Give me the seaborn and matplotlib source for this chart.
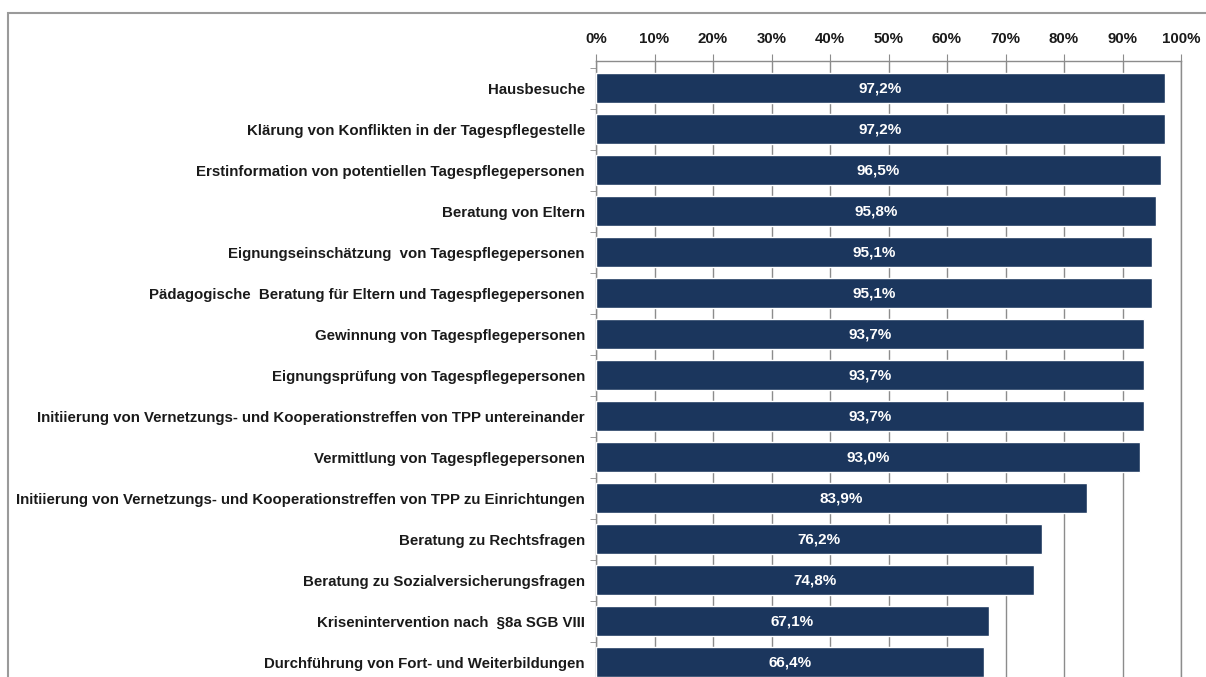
import matplotlib
matplotlib.use('Agg')
import matplotlib.pyplot as plt
import seaborn as sns
import pandas as pd
from matplotlib.patches import Rectangle
from matplotlib.ticker import FuncFormatter, MultipleLocator, FixedLocator

categories = [
    'Hausbesuche',
    'Klärung von Konflikten in der Tagespflegestelle',
    'Erstinformation von potentiellen Tagespflegepersonen',
    'Beratung von Eltern',
    'Eignungseinschätzung  von Tagespflegepersonen',
    'Pädagogische  Beratung für Eltern und Tagespflegepersonen',
    'Gewinnung von Tagespflegepersonen',
    'Eignungsprüfung von Tagespflegepersonen',
    'Initiierung von Vernetzungs- und Kooperationstreffen von TPP untereinander',
    'Vermittlung von Tagespflegepersonen',
    'Initiierung von Vernetzungs- und Kooperationstreffen von TPP zu Einrichtungen',
    'Beratung zu Rechtsfragen',
    'Beratung zu Sozialversicherungsfragen',
    'Krisenintervention nach  §8a SGB VIII',
    'Durchführung von Fort- und Weiterbildungen',
]
values = [97.2, 97.2, 96.5, 95.8, 95.1, 95.1, 93.7, 93.7, 93.7, 93.0, 83.9, 76.2, 74.8, 67.1, 66.4]

df = pd.DataFrame({'task': categories, 'share': values})

sns.set_style('white')
plt.rcParams['font.family'] = ['Liberation Sans', 'DejaVu Sans']

W, H = 1206, 677
fig = plt.figure(figsize=(W / 100, H / 100), dpi=100)

# gray frame around the chart area (continues past the cropped edges)
fig.patches.append(Rectangle((8 / W, -0.1), 1.2, 1 - 13 / H + 0.1, transform=fig.transFigure,
                             fill=False, edgecolor='#9a9a9a', linewidth=1.5))

top_px, bottom_px = 61, 682.5
ax = fig.add_axes([596 / W, 1 - bottom_px / H, (1181 - 596) / W, (bottom_px - top_px) / H])

bar_color = '#1b365d'
sns.barplot(data=df, y='task', x='share', orient='h', color=bar_color, width=0.73,
            saturation=1, ax=ax, zorder=3)

ax.set_xlim(0, 100)
ax.set_ylim(14.5, -0.66)
ax.xaxis.set_major_locator(MultipleLocator(10))
ax.xaxis.set_major_formatter(FuncFormatter(lambda v, p: f'{int(v)}%'))
ax.xaxis.tick_top()
ax.set_xlabel('')
ax.set_ylabel('')
ax.grid(axis='x', color='#8c8c8c', linewidth=1, zorder=0)
ax.grid(axis='y', visible=False)

for s in ['top', 'left', 'right']:
    ax.spines[s].set_visible(True)
    ax.spines[s].set_color('#8c8c8c')
    ax.spines[s].set_linewidth(1)
ax.spines['bottom'].set_visible(False)

ax.tick_params(axis='x', which='major', top=True, bottom=False, length=5, color='#8c8c8c',
               labelsize=10.8, pad=6)
ax.tick_params(axis='y', which='major', left=False, length=0, labelsize=10.8, pad=8)
ax.yaxis.set_minor_locator(FixedLocator([i + 0.5 for i in range(-1, 15)]))
ax.tick_params(axis='y', which='minor', left=True, length=4, color='#8c8c8c')

for lab in ax.get_xticklabels() + ax.get_yticklabels():
    lab.set_fontweight('bold')
    lab.set_color('#1a1a1a')

for i, v in enumerate(values):
    ax.text(v / 2, i, f'{v:.1f}%'.replace('.', ','), ha='center', va='center',
            color='white', fontsize=11, fontweight='bold', zorder=4)

fig.savefig('out.png', dpi=100)
